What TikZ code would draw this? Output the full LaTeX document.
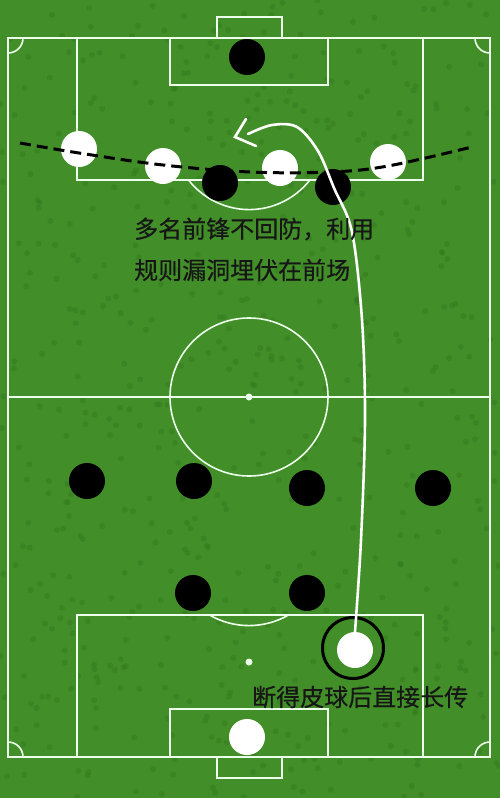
\documentclass[tikz,border=0pt]{standalone}
\usepackage{fontspec}
\newfontfamily\cjk[FakeBold=0.35]{Noto Sans CJK SC}
\definecolor{grass}{RGB}{66,142,40}
\definecolor{grassdark}{RGB}{48,116,30}
\definecolor{ink}{RGB}{22,22,22}
\tikzset{
  pitchline/.style={draw=white!92!green, line width=1.6pt},
  blackp/.style={circle, fill=black, minimum size=36pt, inner sep=0pt},
  whitep/.style={circle, fill=white, minimum size=36pt, inner sep=0pt},
  label/.style={font=\cjk\fontsize{24}{27}\selectfont, text=ink, anchor=west, inner sep=0pt},
}
\begin{document}
\begin{tikzpicture}[x=1pt,y=-1pt]
\useasboundingbox (0,0) rectangle (500,798);
\fill[grass] (0,0) rectangle (500,798);
% subtle texture
\pgfmathsetseed{7}
\foreach \i in {1,...,600}{
  \pgfmathsetmacro{\px}{rnd*500}
  \pgfmathsetmacro{\py}{rnd*798}
  \fill[grassdark, opacity=0.35] (\px,\py) circle (3pt);
}
% outer boundary
\draw[pitchline] (8,38) rectangle (490,757);
\draw[pitchline] (8,397) -- (490,397);
% top
\draw[pitchline] (217,38) -- (217,17) -- (282,17) -- (282,38);
\draw[pitchline] (77,38) rectangle (423,180);
\draw[pitchline] (170,38) rectangle (328,85);
\draw[pitchline] (188.5,180) arc[start angle=218, end angle=322, x radius=77, y radius=-77];
% bottom
\draw[pitchline] (217,757) -- (217,778) -- (282,778) -- (282,757);
\draw[pitchline] (77,615) rectangle (423,757);
\draw[pitchline] (170,709) rectangle (328,757);
\draw[pitchline] (209.5,615) arc[start angle=-120, end angle=-60, x radius=79, y radius=-79];
\fill[white!92!green] (249,662) circle (3.5pt);
% centre
\draw[pitchline] (249,397) circle (79pt);
\fill[white!92!green] (249,397) circle (3.5pt);
% corners (unitless radii follow the flipped y axis)
\draw[pitchline] (23,38) arc[start angle=0, end angle=90, radius=15];
\draw[pitchline] (475,38) arc[start angle=180, end angle=90, radius=15];
\draw[pitchline] (23,757) arc[start angle=0, end angle=-90, radius=15];
\draw[pitchline] (475,757) arc[start angle=180, end angle=270, radius=15];
% players
\node[blackp] (gk1) at (247,57) {};
\node[blackp] (b1) at (220,183) {};
\node[blackp] (b2) at (333,187) {};
\node[blackp] (m1) at (87,481) {};
\node[blackp] (m2) at (194,481) {};
\node[blackp] (m3) at (307,488) {};
\node[blackp] (m4) at (433,488) {};
\node[blackp] (d1) at (193,593) {};
\node[blackp] (d2) at (307,593) {};
\node[whitep] (w1) at (79,149) {};
\node[whitep] (w2) at (163,166) {};
\node[whitep] (w3) at (280,168) {};
\node[whitep] (w4) at (388,162) {};
\node[whitep] (wp) at (355,650) {};
\node[whitep] (gk2) at (247,737) {};
\draw[black, line width=3pt] (353,648) circle (30.5pt);
% offside dashed line
\draw[black, line width=3pt, dash pattern=on 11pt off 6pt]
  plot[smooth, tension=0.6] coordinates {(20,143) (79,153) (163,165) (250,172) (330,172) (388,166) (472,147)};
% long ball
\coordinate (endp) at (248,134);
\draw[white, line width=2.6pt, line cap=round]
  plot[smooth, tension=0.55] coordinates {(wp.north) (361,540) (365,420) (362,320) (352,232) (334,188) (318,151) (297,127) (272,125) (endp)};
\coordinate (tip) at (235,137);
\coordinate (armA) at (246,119);
\coordinate (armB) at (256,146);
\draw[white, line width=2.6pt, line cap=round, line join=miter] (armA) -- (tip) -- (armB);
% texts
\node[label] (t1) at (134,229) {多名前锋不回防，利用};
\node[label] (t2) at (134,270) {规则漏洞埋伏在前场};
\node[label] (t3) at (252,697) {断得皮球后直接长传};
\end{tikzpicture}
\end{document}
